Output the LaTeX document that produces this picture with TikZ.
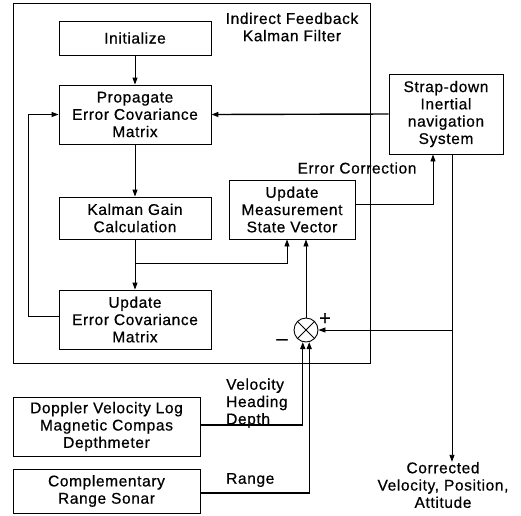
\documentclass[tikz,border=0pt]{standalone}
\usepackage{fontspec}
\setmainfont{Liberation Sans}[LetterSpace=4,FakeBold=0.6]
\usetikzlibrary{arrows.meta,calc}
\tikzset{
  box/.style={draw, line width=0.9pt, align=center, inner sep=0pt, font=\fontsize{15.5}{17.3}\selectfont},
  lbl/.style={inner sep=0pt, font=\fontsize{15.5}{17.3}\selectfont},
  conn/.style={line width=0.9pt},
  arr/.style={line width=0.9pt, -{Triangle[length=7pt,width=5pt]}},
  thick arr/.style={line width=1.4pt, -{Triangle[length=7pt,width=5pt]}},
}
\begin{document}
\begin{tikzpicture}[x=1pt,y=-1pt]
\useasboundingbox (0,0) rectangle (521,515);
% frame
\draw[line width=0.9pt] (13,3) rectangle (370,363);
\node[lbl, align=center] (title) at (292,27) {Indirect Feedback\\Kalman Filter};
% boxes
\node[box, minimum width=152, minimum height=34] (init) at (135,38) {Initialize};
\node[box, minimum width=152, minimum height=59] (prop) at (135,114.5) {Propagate\\Error Covariance\\Matrix};
\node[box, minimum width=152, minimum height=42] (kg) at (135,218) {Kalman Gain\\Calculation};
\node[box, minimum width=152, minimum height=59] (ue) at (135,319.5) {Update\\Error Covariance\\Matrix};
\node[box, minimum width=126, minimum height=59] (um) at (292,209.5) {Update\\Measurement\\State Vector};
\node[box, minimum width=114, minimum height=80] (sd) at (446,114) {Strap-down\\Inertial\\navigation\\System};
\node[box, minimum width=187, minimum height=59] (dop) at (106.5,426.5) {Doppler Velocity Log\\Magnetic Compas\\Depthmeter};
\node[box, minimum width=187, minimum height=44] (comp) at (106.5,491) {Complementary\\Range Sonar};
\node[draw, circle, line width=0.9pt, minimum size=24, inner sep=0pt] (sum) at (306,330) {};
\draw[line width=0.9pt] (sum.45) -- (sum.225) (sum.135) -- (sum.315);
% labels
\node[lbl] (ec) at (357,168) {Error Correction};
\node[lbl, font=\fontsize{20}{20}\selectfont] (plus) at (325,319) {+};
\node[lbl, font=\fontsize{20}{20}\selectfont] (minus) at (282,342) {--};
\node[lbl, align=left, anchor=west] (vhd) at (226,403) {Velocity\\Heading\\Depth};
\node[lbl, anchor=west] (rng) at (226,480) {Range};
\node[lbl, align=center] (corr) at (443,485) {Corrected\\Velocity, Position,\\Attitude};
% connectors
\draw[arr] (init) -- (prop);
\draw[thick arr] (sd.west) -- (prop.east);
\draw[arr] (prop) -- (kg);
\draw[arr] ([yshift=3]ue.west) -- ++(-30,0) |- (prop.west);
\coordinate (br) at (kg.south |- 0,263);
\draw[arr] (kg.south) -- (ue.north);
\draw[arr] (br) -| ([xshift=-5]um.south);
\draw[arr] (sum.north) -- (sum.north |- um.south);
\draw[arr] ([yshift=5]um.east) -| ([xshift=-13]sd.south);
\draw[arr] ([xshift=6]sd.south) -- ([xshift=6]sd.south |- corr.north);
\coordinate (jn) at ([xshift=6]sd.south |- sum.east);
\draw[arr] (jn) -- (sum.east);
\draw[thick arr] ([yshift=1.5]dop.east) -| (sum.-105);
\draw[thick arr] ([yshift=-2]comp.east) -| (sum.-75);
\end{tikzpicture}
\end{document}
